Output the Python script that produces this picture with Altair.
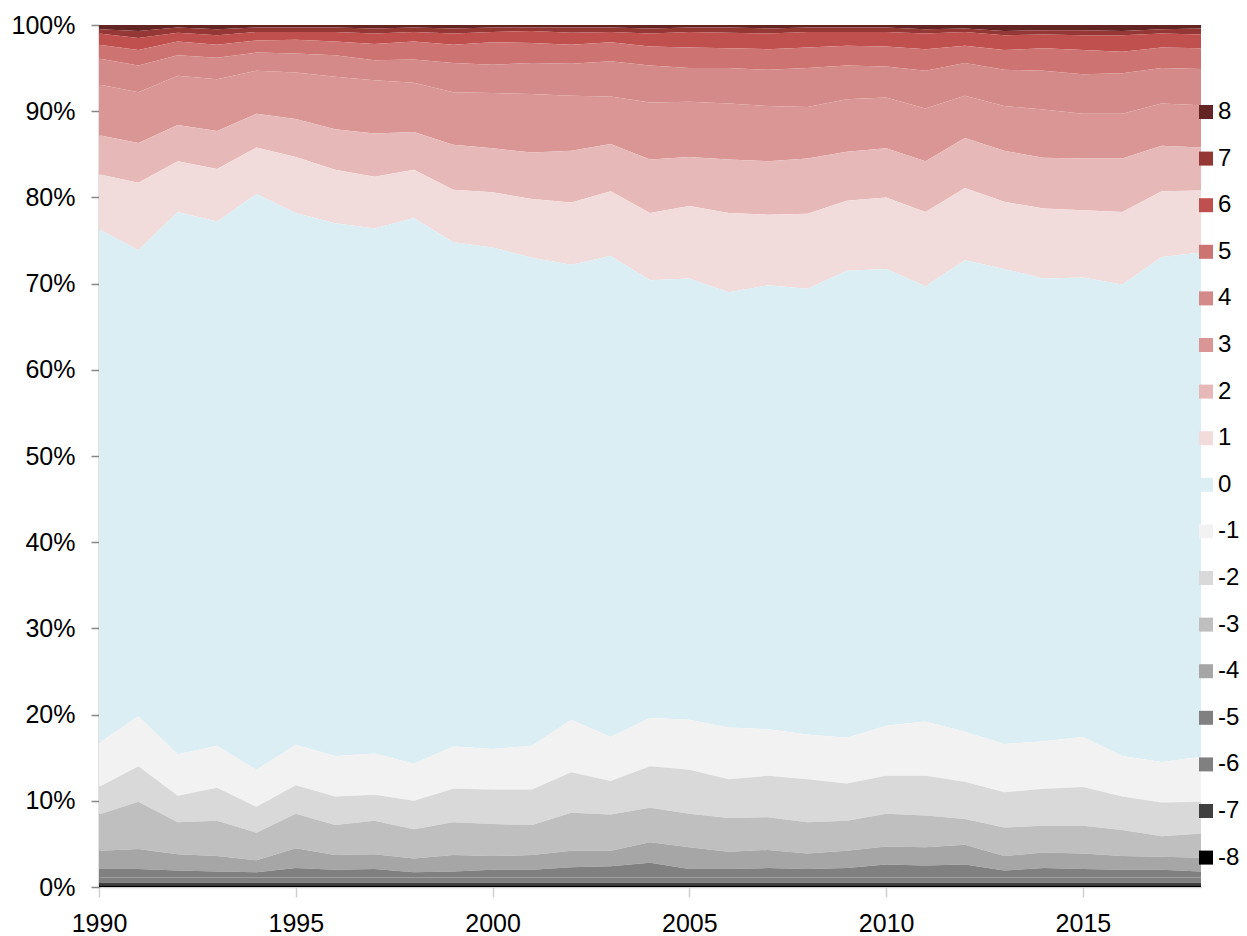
import altair as alt
import pandas as pd

years = list(range(1990, 2019))

# shares (%) of each category per year
share_m8 = [0.2] * 29
share_m7 = [0.3] * 29
share_m6 = [0.6] * 29
share_m5 = [1.0, 1.0, 0.8, 0.7, 0.6, 1.1, 0.9, 1.0, 0.6, 0.7, 0.9, 0.9, 1.2, 1.3, 1.7,
            1.0, 1.0, 1.1, 1.0, 1.1, 1.5, 1.4, 1.5, 0.8, 1.1, 1.0, 0.9, 0.9, 0.7]
share_m4 = [2.1, 2.3, 1.9, 1.8, 1.4, 2.3, 1.7, 1.7, 1.6, 1.9, 1.6, 1.7, 1.9, 1.8, 2.4,
            2.5, 2.0, 2.1, 1.8, 2.0, 2.1, 2.1, 2.3, 1.7, 1.8, 1.8, 1.6, 1.5, 1.6]
share_m3 = [4.2, 5.5, 3.7, 4.1, 3.2, 4.0, 3.5, 3.9, 3.4, 3.8, 3.7, 3.5, 4.4, 4.2, 4.0,
            3.9, 3.9, 3.8, 3.6, 3.5, 3.8, 3.7, 3.0, 3.3, 3.1, 3.2, 3.0, 2.4, 2.8]
share_m2 = [3.2, 4.1, 3.1, 3.8, 3.0, 3.3, 3.3, 3.0, 3.3, 3.9, 4.0, 4.1, 4.7, 3.9, 4.8,
            5.1, 4.5, 4.8, 5.0, 4.3, 4.4, 4.6, 4.3, 4.1, 4.3, 4.5, 3.9, 3.9, 3.7]
share_m1 = [5.1, 5.8, 4.8, 4.9, 4.3, 4.7, 4.7, 4.8, 4.3, 4.9, 4.7, 5.1, 6.1, 5.1, 5.6,
            5.8, 6.0, 5.4, 5.2, 5.3, 5.8, 6.3, 5.8, 5.6, 5.5, 5.8, 4.7, 4.7, 5.2]
share_0 = [59.6, 54.1, 62.9, 60.8, 66.8, 61.7, 61.8, 60.9, 63.3, 58.5, 58.2, 56.6, 52.8, 55.8, 50.8,
           51.2, 50.5, 51.5, 51.7, 54.2, 53.0, 50.5, 54.7, 55.1, 53.7, 53.3, 54.7, 58.6, 58.5]
share_p1 = [6.4, 7.8, 5.9, 6.1, 5.4, 6.5, 6.2, 6.0, 5.6, 6.1, 6.4, 6.8, 7.2, 7.5, 7.8,
            8.4, 9.2, 8.2, 8.7, 8.1, 8.3, 8.6, 8.4, 7.8, 8.1, 7.8, 8.4, 7.6, 7.2]
share_p2 = [4.5, 4.6, 4.2, 4.4, 3.9, 4.4, 4.7, 5.0, 4.4, 5.2, 5.1, 5.4, 6.0, 5.5, 6.2,
            5.7, 6.2, 6.2, 6.4, 5.7, 5.7, 5.9, 5.8, 5.9, 5.9, 6.0, 6.2, 5.3, 5.0]
share_p3 = [5.9, 5.9, 5.7, 6.0, 5.0, 5.4, 6.1, 6.2, 5.7, 6.1, 6.4, 6.8, 6.4, 5.5, 6.6,
            6.4, 6.5, 6.4, 6.0, 6.1, 5.9, 6.1, 4.9, 5.2, 5.6, 5.2, 5.2, 4.9, 4.9]
share_p4 = [3.0, 3.1, 2.4, 2.5, 2.1, 2.2, 2.5, 2.3, 2.7, 3.4, 3.3, 3.6, 3.7, 4.1, 4.3,
            3.9, 4.1, 4.2, 4.5, 3.9, 3.6, 4.4, 3.8, 4.2, 4.5, 4.6, 4.7, 4.1, 4.2]
share_p5 = [1.6, 1.8, 1.6, 1.5, 1.4, 1.6, 1.6, 1.9, 2.1, 2.1, 2.6, 2.3, 2.2, 2.2, 2.2,
            2.4, 2.3, 2.4, 2.4, 2.3, 2.3, 2.5, 2.0, 2.3, 2.6, 2.8, 2.5, 2.4, 2.4]
share_p6 = [1.3, 1.4, 1.0, 1.1, 1.0, 0.9, 1.1, 1.2, 1.1, 1.3, 1.2, 1.4, 1.4, 1.2, 1.5,
            1.8, 1.8, 1.8, 1.8, 1.6, 1.7, 1.8, 1.6, 1.7, 1.6, 1.7, 1.9, 1.6, 1.6]
share_p7 = [0.5, 0.8, 0.6, 0.7, 0.5, 0.5, 0.5, 0.6, 0.5, 0.6, 0.5, 0.4, 0.6, 0.5, 0.6,
            0.5, 0.6, 0.6, 0.5, 0.5, 0.5, 0.5, 0.4, 0.5, 0.5, 0.6, 0.5, 0.5, 0.7]
share_p8 = [0.5, 0.7, 0.3, 0.5, 0.3, 0.3, 0.3, 0.4, 0.3, 0.4, 0.3, 0.3, 0.3, 0.3, 0.4,
            0.3, 0.3, 0.4, 0.3, 0.3, 0.3, 0.5, 0.4, 0.7, 0.6, 0.6, 0.7, 0.5, 0.4]

categories = [8, 7, 6, 5, 4, 3, 2, 1, 0, -1, -2, -3, -4, -5, -6, -7, -8]
series = [share_p8, share_p7, share_p6, share_p5, share_p4, share_p3, share_p2, share_p1,
          share_0, share_m1, share_m2, share_m3, share_m4, share_m5, share_m6, share_m7, share_m8]
colors = ["#632523", "#953735", "#C0504D", "#CD7371", "#D48A88", "#DA9694", "#E6B9B8",
          "#F2DCDB", "#DBEEF4", "#F2F2F2", "#D9D9D9", "#BFBFBF", "#A6A6A6", "#808080",
          "#808080", "#404040", "#000000"]

rows = []
for cat, vals in zip(categories, series):
    for yr, v in zip(years, vals):
        rows.append({"year": yr, "cat": str(cat), "k": cat, "share": v})
df = pd.DataFrame(rows)

FONT = "Liberation Sans"
FS = 25

chart = alt.Chart(df).mark_area(interpolate="linear").encode(
    x=alt.X("year:Q",
            scale=alt.Scale(domain=[1990, 2018], nice=False, zero=False),
            axis=alt.Axis(values=[1990, 1995, 2000, 2005, 2010, 2015], format="d",
                          title=None, grid=False, labelFontSize=FS, labelFont=FONT,
                          labelColor="#000000", tickSize=10, labelPadding=14,
                          tickColor="#D0D0D0", tickWidth=1.5,
                          domainColor="#D0D0D0", domainWidth=1.5,
                          labelFlush=False, labelOverlap=False)),
    y=alt.Y("share:Q", stack="normalize",
            scale=alt.Scale(domain=[0, 1], nice=False),
            axis=alt.Axis(values=[i / 10 for i in range(11)], format=".0%",
                          title=None, grid=False, labelFontSize=FS, labelFont=FONT,
                          labelColor="#000000", tickSize=8, labelPadding=16,
                          tickColor="#868686", domainColor="#868686", domainWidth=1.5,
                          tickWidth=1.5, labelFlush=False, labelOverlap=False)),
    color=alt.Color("cat:N",
                    scale=alt.Scale(domain=[str(c) for c in categories], range=colors),
                    legend=alt.Legend(title=None, orient="none", legendX=1095, legendY=75,
                                      symbolType="square", symbolSize=196,
                                      symbolStrokeWidth=0, labelFontSize=24, labelFont=FONT,
                                      labelColor="#000000", labelOffset=0, rowPadding=22.6,
                                      padding=0, labelLimit=60)),
    order=alt.Order("k:Q", sort="ascending"),
).properties(
    width=1102,
    height=862,
    autosize=alt.AutoSizeParams(type="none"),
    padding={"left": 91, "top": 17, "right": 38, "bottom": 50},
).configure_view(stroke=None)

chart.save("out.html", embed_options={"renderer": "svg", "actions": False})
